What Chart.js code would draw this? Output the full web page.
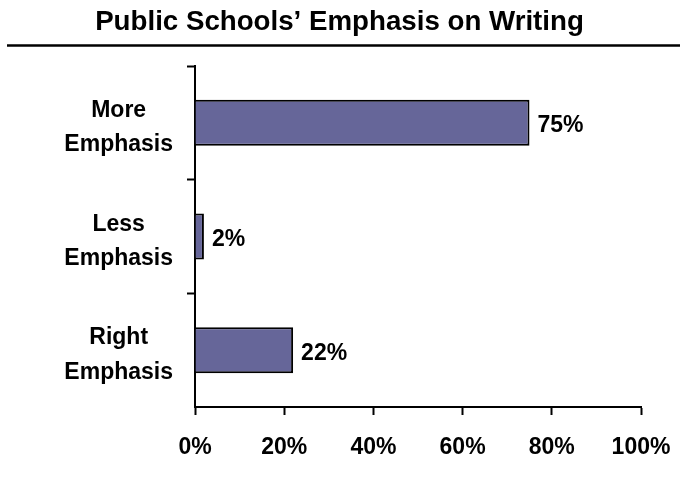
<!DOCTYPE html>
<html>
<head>
<meta charset="utf-8">
<script src="https://cdn.jsdelivr.net/npm/chart.js@4.4.1/dist/chart.umd.min.js"></script>
<style>
  html, body { margin: 0; padding: 0; background: #fff; }
  #wrap { width: 680px; height: 493px; }
</style>
</head>
<body>
<div id="wrap"><canvas id="writingChart" width="680" height="493"></canvas></div>
<script>
const categories = [["More", "Emphasis"], ["Less", "Emphasis"], ["Right", "Emphasis"]];
const percents = [75, 2, 22];
const xTicks = [0, 20, 40, 60, 80, 100];

const FONT = "'Liberation Sans', Arial, sans-serif";

// underline below the title
const titleRule = {
    id: "titleRule",
    afterDraw(chart) {
        const c = chart.ctx;
        c.save();
        c.strokeStyle = "#000";
        c.lineWidth = 2.5;
        c.beginPath();
        c.moveTo(7, 45.5);
        c.lineTo(680, 45.5);
        c.stroke();
        c.restore();
    }
};

// value labels at the end of each bar
const barValues = {
    id: "barValues",
    afterDatasetsDraw(chart) {
        const c = chart.ctx;
        const meta = chart.getDatasetMeta(0);
        c.save();
        c.font = "bold 23px " + FONT;
        c.fillStyle = "#000";
        c.textAlign = "left";
        c.textBaseline = "middle";
        meta.data.forEach((bar, i) => {
            c.fillText(percents[i] + "%", bar.x + 8, bar.y + 3);
        });
        c.restore();
    }
};

const ctx = document.getElementById("writingChart");

new Chart(ctx, {
    type: "bar",
    data: {
        labels: categories,
        datasets: [
            {
                data: percents,
                backgroundColor: "#666699",
                borderColor: "#000",
                borderWidth: 2,
                barPercentage: 0.405,
                categoryPercentage: 1
            }
        ]
    },
    options: {
        indexAxis: "y",
        responsive: false,
        animation: false,
        layout: {
            padding: { left: 38, right: 39, top: 0, bottom: 0 }
        },
        plugins: {
            legend: { display: false },
            tooltip: { enabled: false },
            title: {
                display: true,
                text: "Public Schools\u2019 Emphasis on Writing",
                color: "#000",
                font: { family: FONT, size: 27.7, weight: "bold", lineHeight: 1.2 },
                padding: { top: 6, bottom: 26.76 }
            }
        },
        scales: {
            x: {
                min: 0,
                max: 100,
                afterBuildTicks(scale) {
                    scale.ticks = xTicks.map(v => ({ value: v }));
                },
                afterFit(scale) {
                    scale.height = 86;
                    scale.paddingLeft = 0;
                    scale.paddingRight = 0;
                },
                border: { display: true, color: "#000", width: 2 },
                grid: {
                    drawOnChartArea: false,
                    drawTicks: true,
                    tickLength: 8,
                    tickWidth: 2,
                    color: "#000"
                },
                ticks: {
                    color: "#000",
                    padding: 19,
                    maxRotation: 0,
                    font: { family: FONT, size: 23, weight: "bold" },
                    callback: v => v + "%"
                }
            },
            y: {
                afterFit(scale) {
                    scale.width = 157;
                },
                border: { display: true, color: "#000", width: 2 },
                grid: {
                    offset: true,
                    drawOnChartArea: false,
                    drawTicks: true,
                    tickLength: 8,
                    tickWidth: 2,
                    color: c => (c.index === undefined ? "rgba(0,0,0,0)" : "#000")
                },
                ticks: {
                    color: "#000",
                    padding: 14,
                    labelOffset: 5,
                    crossAlign: "center",
                    font: { family: FONT, size: 23, weight: "bold", lineHeight: 1.5 }
                }
            }
        }
    },
    plugins: [titleRule, barValues]
});
</script>
</body>
</html>
